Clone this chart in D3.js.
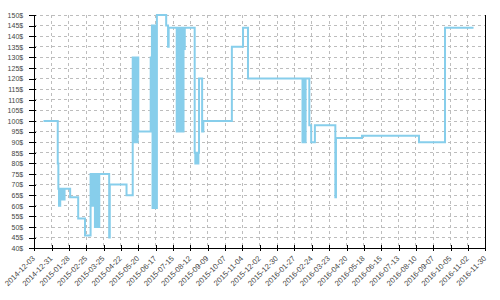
<!DOCTYPE html>
<html>
<head>
<meta charset="utf-8">
<script src="https://cdn.jsdelivr.net/npm/d3@7"></script>
<style>
  body { margin: 0; background: #fff; }
  svg { display: block; font-family: "DejaVu Sans", sans-serif; }
</style>
</head>
<body>
<div id="container"></div>
<script>
/* CONSTANTS AND GLOBALS */
const width = 500,
      height = 300,
      margin = { top: 15, right: 14.7, bottom: 51.8, left: 34.2 };

// x axis ticks, every 4 weeks
const tickDates = [
  "2014-12-03", "2014-12-31", "2015-01-28", "2015-02-25", "2015-03-25", "2015-04-22",
  "2015-05-20", "2015-06-17", "2015-07-15", "2015-08-12", "2015-09-09", "2015-10-07",
  "2015-11-04", "2015-12-02", "2015-12-30", "2016-01-27", "2016-02-24", "2016-03-23",
  "2016-04-20", "2016-05-18", "2016-06-15", "2016-07-13", "2016-08-10", "2016-09-07",
  "2016-10-05", "2016-11-02", "2016-11-30"
];
const yTicks = [40, 45, 50, 55, 60, 65, 70, 75, 80, 85, 90, 95, 100, 105, 110, 115, 120, 125, 130, 135, 140, 145, 150];

// price changes (step after)
const priceDates = [
  "2014-12-18", "2015-01-10", "2015-01-11", "2015-01-12", "2015-01-14", "2015-01-16",
  "2015-01-18", "2015-01-19", "2015-01-21", "2015-01-30", "2015-02-12", "2015-02-23",
  "2015-03-04", "2015-03-05", "2015-03-06", "2015-03-07", "2015-03-08", "2015-03-09",
  "2015-03-10", "2015-03-11", "2015-03-12", "2015-03-13", "2015-03-14", "2015-03-15",
  "2015-03-16", "2015-03-17", "2015-03-18", "2015-04-03", "2015-04-04", "2015-05-01",
  "2015-05-11", "2015-05-12", "2015-05-13", "2015-05-14", "2015-05-15", "2015-05-16",
  "2015-05-17", "2015-05-18", "2015-05-19", "2015-05-20", "2015-06-09", "2015-06-11",
  "2015-06-12", "2015-06-13", "2015-06-14", "2015-06-15", "2015-06-16", "2015-06-17",
  "2015-06-18", "2015-06-19", "2015-07-04", "2015-07-07", "2015-07-08", "2015-07-21",
  "2015-07-22", "2015-07-23", "2015-07-24", "2015-07-25", "2015-07-26", "2015-07-27",
  "2015-07-28", "2015-07-29", "2015-07-30", "2015-07-31", "2015-08-01", "2015-08-03",
  "2015-08-19", "2015-08-20", "2015-08-21", "2015-08-22", "2015-08-23", "2015-08-24",
  "2015-08-25", "2015-08-26", "2015-08-31", "2015-09-02", "2015-10-18", "2015-11-05",
  "2015-11-13", "2016-02-09", "2016-02-10", "2016-02-11", "2016-02-12", "2016-02-13",
  "2016-02-14", "2016-02-20", "2016-02-23", "2016-02-29", "2016-04-02", "2016-04-03",
  "2016-05-15", "2016-08-15", "2016-09-26", "2016-11-11"
];
const prices = [
  100, 80, 68, 60, 68, 63,
  68, 63, 68, 64, 54, 46,
  75, 60, 75, 60, 75, 60,
  75, 50, 75, 50, 75, 50,
  75, 50, 75, 45, 70, 65,
  130, 90, 130, 90, 130, 90,
  130, 90, 130, 95, 130, 145,
  59, 145, 59, 145, 59, 145,
  59, 150, 145, 135, 144, 95,
  144, 95, 144, 95, 144, 95,
  144, 95, 144, 95, 134, 144,
  85, 80, 85, 80, 85, 80,
  85, 120, 95, 100, 135, 144,
  120, 90, 120, 90, 120, 90,
  120, 98, 90, 98, 64, 92,
  93, 90, 144, 144
];

const parseDate = d3.timeParse("%Y-%m-%d");
const data = priceDates.map((d, i) => ({ date: parseDate(d), price: prices[i] }));

/* SCALES */
const xScale = d3.scaleTime()
  .domain([parseDate(tickDates[0]), parseDate(tickDates[tickDates.length - 1])])
  .range([margin.left, width - margin.right]);

const yScale = d3.scaleLinear()
  .domain([40, 150])
  .range([height - margin.bottom, margin.top]);

/* SVG */
const svg = d3.select("#container")
  .append("svg")
  .attr("width", width)
  .attr("height", height);

// grid
const grid = svg.append("g")
  .attr("stroke", "#bdbdbd")
  .attr("stroke-dasharray", "3,3")
  .attr("shape-rendering", "crispEdges");

grid.selectAll(".hgrid")
  .data(yTicks)
  .join("line")
  .attr("class", "hgrid")
  .attr("x1", margin.left)
  .attr("x2", width - margin.right)
  .attr("y1", d => yScale(d))
  .attr("y2", d => yScale(d));

grid.selectAll(".vgrid")
  .data(tickDates.map(parseDate))
  .join("line")
  .attr("class", "vgrid")
  .attr("x1", d => xScale(d))
  .attr("x2", d => xScale(d))
  .attr("y1", margin.top)
  .attr("y2", height - margin.bottom);

/* LINE */
const line = d3.line()
  .curve(d3.curveStepAfter)
  .x(d => xScale(d.date))
  .y(d => yScale(d.price));

svg.append("path")
  .datum(data)
  .attr("fill", "none")
  .attr("stroke", "#87CEEB")
  .attr("stroke-width", 2)
  .attr("d", line);

/* AXES */
const yAxis = d3.axisLeft(yScale)
  .tickValues(yTicks)
  .tickFormat(d => d + "$")
  .tickSizeOuter(0);

const gy = svg.append("g")
  .attr("transform", `translate(${margin.left},0)`)
  .attr("shape-rendering", "crispEdges")
  .call(yAxis);
gy.selectAll(".tick line").attr("x1", 2).attr("x2", -5);
gy.selectAll(".tick text")
  .attr("x", -11)
  .attr("fill", "#444")
  .style("font-size", "7px");

const xAxis = d3.axisBottom(xScale)
  .tickValues(tickDates.map(parseDate))
  .tickFormat(d3.timeFormat("%Y-%m-%d"))
  .tickSizeOuter(0);

const gx = svg.append("g")
  .attr("transform", `translate(0,${height - margin.bottom})`)
  .attr("shape-rendering", "crispEdges")
  .call(xAxis);
gx.selectAll(".tick line").attr("y1", -3).attr("y2", 3);
gx.selectAll(".tick text")
  .attr("x", 0)
  .attr("y", 0)
  .attr("dy", "0.35em")
  .attr("text-anchor", "end")
  .attr("transform", "translate(-1,9) rotate(-45)")
  .attr("fill", "#444")
  .style("font-size", "7.6px");

// right border
svg.append("line")
  .attr("x1", width - margin.right)
  .attr("x2", width - margin.right)
  .attr("y1", margin.top)
  .attr("y2", height - margin.bottom)
  .attr("stroke", "#000")
  .attr("shape-rendering", "crispEdges");
</script>
</body>
</html>
